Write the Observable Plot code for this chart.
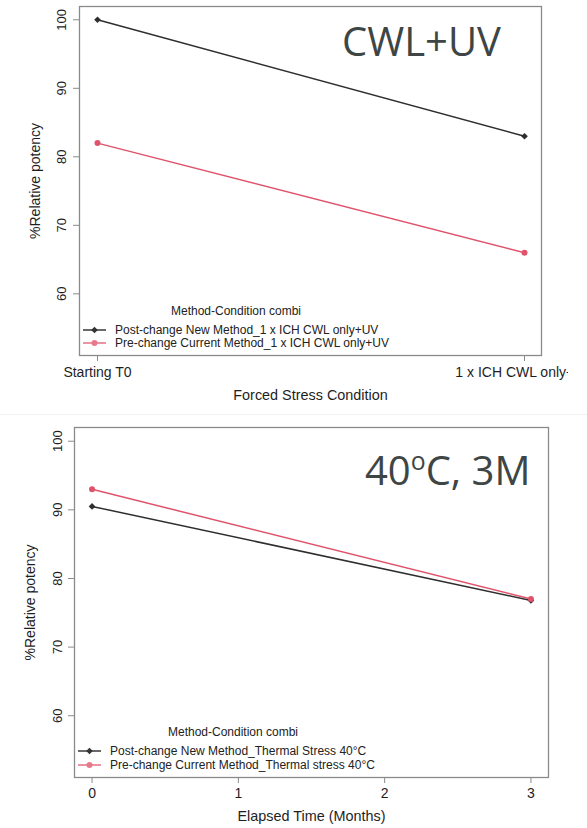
<!DOCTYPE html>
<html>
<head>
<meta charset="utf-8">
<script src="https://cdn.jsdelivr.net/npm/d3@7"></script>
<script src="https://cdn.jsdelivr.net/npm/@observablehq/plot@0.6"></script>
<style>
  html, body { margin: 0; padding: 0; background: #fff; }
  #page { position: relative; width: 587px; height: 828px; overflow: hidden; font-family: "Liberation Sans", Arial, sans-serif; }
  .panel { position: absolute; left: 0; }
  .bigtitle { position: absolute; font-family: "Open Sans", sans-serif; font-size: 40px; line-height: 1; color: #3e4545; white-space: nowrap; }
  .bigtitle sup { font-size: 0.62em; vertical-align: 0; position: relative; top: -0.6em; }
  .lgtitle { position: absolute; font-size: 12px; line-height: 1; color: #222; white-space: nowrap; transform: translateX(-50%); }
  .lgrow { position: absolute; font-size: 12px; line-height: 1; color: #222; white-space: nowrap; display: flex; align-items: center; }
  .sep { position: absolute; left: 0; width: 587px; top: 414px; height: 1px; background: #f1f1f1; }
</style>
</head>
<body>
<div id="page"></div>
<script>
// ---------- data ----------
const categories = ["Starting T0", "1 x ICH CWL only+UV"];
const seriesLight = ["Post-change New Method_1 x ICH CWL only+UV", "Pre-change Current Method_1 x ICH CWL only+UV"];
const postLight = [100, 83];
const preLight = [82, 66];

const months = [0, 3];
const seriesThermal = ["Post-change New Method_Thermal Stress 40°C", "Pre-change Current Method_Thermal stress 40°C"];
const postThermal = [90.5, 76.8];
const preThermal = [93, 77];

const yTicks = [60, 70, 80, 90, 100];
const monthTicks = [0, 1, 2, 3];

const titleLight = "CWL+UV";
const legendTitle = "Method-Condition combi";
const yLabel = "%Relative potency";
const xLabelLight = "Forced Stress Condition";
const xLabelThermal = "Elapsed Time (Months)";

const seriesColors = ["#2e2e2e", "#DF536B"];
const seriesSymbols = ["diamond2", "circle"];

// ---------- tables ----------
const light = categories.flatMap((c, i) => [
  {x: c, value: postLight[i], series: seriesLight[0]},
  {x: c, value: preLight[i], series: seriesLight[1]}
]);
const thermal = months.flatMap((m, i) => [
  {x: m, value: postThermal[i], series: seriesThermal[0]},
  {x: m, value: preThermal[i], series: seriesThermal[1]}
]);

const frameColor = "#8a8a8a";
const textColor = "#1e1e1e";

function commonMarks(data, xAxisOpts, yLabelDx) {
  return [
    Plot.frame({stroke: frameColor, strokeWidth: 1.3}),
    Plot.axisY({ticks: yTicks, tickSize: 6, stroke: frameColor, fill: "none", label: null}),
    Plot.text(yTicks, {y: d => d, text: d => String(d), frameAnchor: "left", rotate: -90,
      dx: yLabelDx, textAnchor: "middle", lineAnchor: "bottom", fontSize: 13, fill: textColor}),
    Plot.axisX(xAxisOpts),
    Plot.text([yLabel], {frameAnchor: "left", rotate: -90, dx: -44, textAnchor: "middle",
      lineAnchor: "middle", fontSize: 14, fill: textColor}),
    Plot.line(data, {x: "x", y: "value", stroke: "series", z: "series", strokeWidth: 1.5}),
    Plot.dot(data, {x: "x", y: "value", fill: "series", symbol: "series", r: 3})
  ];
}

const page = document.getElementById("page");

// ---------- top panel ----------
const top1 = Plot.plot({
  width: 568, height: 410,
  marginLeft: 79, marginRight: 27, marginTop: 6, marginBottom: 55,
  x: {type: "point", domain: categories, padding: 0.04},
  y: {domain: [51, 101.94]},
  color: {domain: seriesLight, range: seriesColors},
  symbol: {domain: seriesLight, range: seriesSymbols},
  style: {fontFamily: "'Liberation Sans', Arial, sans-serif", background: "transparent", overflow: "hidden"},
  marks: [
    ...commonMarks(light, {tickSize: 6, tickPadding: 6, fontSize: 14, stroke: frameColor, fill: textColor, label: null}, -14),
    Plot.text([xLabelLight], {frameAnchor: "bottom", dy: 40, lineAnchor: "middle", fontSize: 14.4, fill: textColor})
  ]
});
const d1 = document.createElement("div");
d1.className = "panel"; d1.style.top = "0px";
d1.appendChild(top1);
page.appendChild(d1);

// ---------- bottom panel ----------
const bot = Plot.plot({
  width: 587, height: 418,
  marginLeft: 74, marginRight: 39, marginTop: 17, marginBottom: 51,
  x: {domain: [-0.12, 3.12]},
  y: {domain: [51, 102]},
  color: {domain: seriesThermal, range: seriesColors},
  symbol: {domain: seriesThermal, range: seriesSymbols},
  style: {fontFamily: "'Liberation Sans', Arial, sans-serif", background: "transparent"},
  marks: [
    ...commonMarks(thermal, {ticks: monthTicks, tickSize: 6, tickPadding: 5, fontSize: 14, stroke: frameColor, fill: textColor, label: null, tickFormat: d => String(d)}, -13),
    Plot.text([xLabelThermal], {frameAnchor: "bottom", dy: 39, lineAnchor: "middle", fontSize: 14.4, fill: textColor})
  ]
});
const d2 = document.createElement("div");
d2.className = "panel"; d2.style.top = "410px";
d2.appendChild(bot);
page.appendChild(d2);

// separator between the two pasted images
const sep = document.createElement("div");
sep.className = "sep";
page.appendChild(sep);

// ---------- big titles ----------
function addTitle(html, left, top) {
  const t = document.createElement("div");
  t.className = "bigtitle";
  t.style.left = left + "px"; t.style.top = top + "px";
  t.innerHTML = html;
  page.appendChild(t);
}
addTitle(titleLight, 342, 21);
addTitle("40<sup>o</sup>C, 3M", 365, 450);

// ---------- legends ----------
function keySvg(i) {
  const ns = "http://www.w3.org/2000/svg";
  const s = document.createElementNS(ns, "svg");
  s.setAttribute("width", 24); s.setAttribute("height", 10);
  s.style.marginRight = "8px";
  const l = document.createElementNS(ns, "line");
  l.setAttribute("x1", 0); l.setAttribute("x2", 23); l.setAttribute("y1", 5); l.setAttribute("y2", 5);
  l.setAttribute("stroke", i === 0 ? "#444" : "#E8798C"); l.setAttribute("stroke-width", 1.6);
  s.appendChild(l);
  const sym = d3.symbol(i === 0 ? d3.symbolDiamond2 : d3.symbolCircle, Math.PI * 9)();
  const p = document.createElementNS(ns, "path");
  p.setAttribute("d", sym); p.setAttribute("transform", "translate(11.5,5)");
  p.setAttribute("fill", i === 0 ? "#333" : "#E8798C");
  s.appendChild(p);
  return s;
}
function addLegend(series, titleCx, titleCy, rowLeft, rowCys) {
  const t = document.createElement("div");
  t.className = "lgtitle"; t.textContent = legendTitle;
  t.style.left = titleCx + "px"; t.style.top = (titleCy - 6) + "px";
  page.appendChild(t);
  series.forEach((s, i) => {
    const r = document.createElement("div");
    r.className = "lgrow";
    r.style.left = rowLeft + "px"; r.style.top = (rowCys[i] - 5) + "px";
    r.appendChild(keySvg(i));
    const sp = document.createElement("span"); sp.textContent = s;
    r.appendChild(sp);
    page.appendChild(r);
  });
}
addLegend(seriesLight, 236, 311, 83, [328.5, 342]);
addLegend(seriesThermal, 233, 732, 78, [750, 764]);
</script>
</body>
</html>
